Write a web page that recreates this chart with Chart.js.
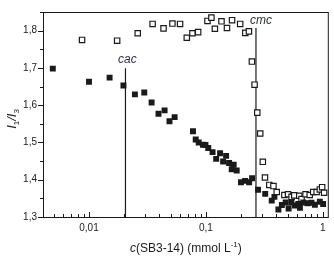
<!DOCTYPE html>
<html>
<head>
<meta charset="utf-8">
<script src="https://cdn.jsdelivr.net/npm/chart.js@4/dist/chart.umd.min.js"></script>
<style>
  html, body { margin: 0; padding: 0; background: #fff; }
  #wrap { width: 334px; height: 256px; }
</style>
</head>
<body>
<div id="wrap"><canvas id="chart" width="334" height="256"></canvas></div>
<script>
// Data: concentration (mmol/L) and I1/I3
const filledX = [0.0049, 0.0100, 0.0150, 0.0197, 0.0247, 0.0297, 0.0343, 0.0393, 0.0443, 0.0488,
  0.0540, 0.0775, 0.0818, 0.0867, 0.0943, 0.0991, 0.1047, 0.114, 0.1224, 0.1322,
  0.1403, 0.1488, 0.1578, 0.1663, 0.1728, 0.1834, 0.1995, 0.2167, 0.2342, 0.2483,
  0.2793, 0.3215, 0.3656, 0.3855, 0.4169, 0.4463, 0.4810, 0.5100, 0.538, 0.578,
  0.617, 0.637, 0.681, 0.740, 0.800, 0.855, 0.943, 1.006];
const filledY = [1.698, 1.663, 1.674, 1.653, 1.629, 1.634, 1.607, 1.577, 1.586, 1.557,
  1.568, 1.530, 1.508, 1.500, 1.494, 1.493, 1.485, 1.474, 1.456, 1.471,
  1.449, 1.464, 1.445, 1.428, 1.440, 1.425, 1.393, 1.397, 1.393, 1.404,
  1.373, 1.362, 1.344, 1.354, 1.320, 1.332, 1.339, 1.323, 1.339, 1.331,
  1.335, 1.325, 1.339, 1.337, 1.338, 1.333, 1.341, 1.335];

const openX = [0.00872, 0.0174, 0.0261, 0.0350, 0.0434, 0.0517, 0.0601, 0.0686, 0.0767, 0.0858,
  0.1031, 0.1114, 0.1193, 0.1359, 0.1514, 0.1673, 0.1963, 0.2173, 0.2333, 0.2474,
  0.2608, 0.2749, 0.2915, 0.3067, 0.3201, 0.3483, 0.3782, 0.4034, 0.4690, 0.5042,
  0.5410, 0.5704, 0.6287, 0.6579, 0.7114, 0.7727, 0.8272, 0.8857, 0.9430, 0.9863, 1.026];
const openY = [1.775, 1.773, 1.793, 1.818, 1.806, 1.819, 1.818, 1.781, 1.793, 1.796,
  1.826, 1.835, 1.805, 1.825, 1.807, 1.828, 1.818, 1.794, 1.798, 1.717,
  1.655, 1.580, 1.524, 1.448, 1.406, 1.386, 1.383, 1.367, 1.359, 1.361,
  1.354, 1.358, 1.357, 1.348, 1.361, 1.359, 1.367, 1.367, 1.374, 1.380, 1.365];

// marker lines: cac and cmc
const cacX = 0.0205, cacTop = 1.699;
const cmcX = 0.268, cmcTop = 1.807;

const xTickValues = [0.01, 0.1, 1];
const xTickLabels = ['0,01', '0,1', '1'];
const yTickValues = [1.3, 1.4, 1.5, 1.6, 1.7, 1.8];
const yTickLabels = ['1,3', '1,4', '1,5', '1,6', '1,7', '1,8'];

const FONT = '"Liberation Sans", Arial, sans-serif';
const INK = '#1a1a1a';

const toPoints = (xs, ys) => xs.map((x, i) => ({x: x, y: ys[i]}));

// frame, inward/outward tick marks, titles and the cac / cmc labels
const decorations = {
  id: 'decorations',
  afterDraw(chart) {
    const ctx = chart.ctx;
    const a = chart.chartArea;
    const xs = chart.scales.x, ys = chart.scales.y;
    ctx.save();
    ctx.strokeStyle = INK;
    ctx.lineWidth = 1;
    ctx.strokeRect(a.left + 0.5, a.top + 0.5, a.right - a.left - 1, a.bottom - a.top);

    // y ticks (outside, left)
    for (let v = 1.3; v <= 1.851; v += 0.05) {
      const py = Math.round(ys.getPixelForValue(v)) + 0.5;
      const major = Math.abs(Math.round(v * 10) - v * 10) < 1e-6;
      ctx.beginPath();
      ctx.moveTo(a.left, py);
      ctx.lineTo(a.left - (major ? 5 : 3), py);
      ctx.stroke();
    }
    // x ticks (inside, up)
    for (let e = -3; e <= 0; e++) {
      for (let m = 1; m <= 9; m++) {
        const v = m * Math.pow(10, e);
        if (v < xs.min || v > xs.max) continue;
        const px = Math.round(xs.getPixelForValue(v)) + 0.5;
        ctx.beginPath();
        ctx.moveTo(px, a.bottom);
        ctx.lineTo(px, a.bottom - (m === 1 ? 5 : 3));
        ctx.stroke();
      }
    }

    // x title: c(SB3-14) (mmol L^-1)
    ctx.fillStyle = INK;
    ctx.textBaseline = 'alphabetic';
    const parts = [
      {t: 'c', f: 'italic 12px ' + FONT, dy: 0},
      {t: '(SB3-14) (mmol L', f: '12px ' + FONT, dy: 0},
      {t: '-1', f: '8px ' + FONT, dy: -5},
      {t: ')', f: '12px ' + FONT, dy: 0}
    ];
    let total = 0;
    parts.forEach(p => { ctx.font = p.f; p.w = ctx.measureText(p.t).width; total += p.w; });
    let cx = (a.left + a.right) / 2 - total / 2;
    const base = 252;
    parts.forEach(p => { ctx.font = p.f; ctx.fillText(p.t, cx, base + p.dy); cx += p.w; });

    // y title: I1/I3 rotated
    ctx.save();
    ctx.translate(16, 119);
    ctx.rotate(-Math.PI / 2);
    const yparts = [
      {t: 'I', f: 'italic 13px ' + FONT, dy: 0},
      {t: '1', f: '8px ' + FONT, dy: 3},
      {t: '/', f: 'italic 13px ' + FONT, dy: 0},
      {t: 'I', f: 'italic 13px ' + FONT, dy: 0},
      {t: '3', f: '8px ' + FONT, dy: 3}
    ];
    total = 0;
    yparts.forEach(p => { ctx.font = p.f; p.w = ctx.measureText(p.t).width; total += p.w; });
    cx = -total / 2;
    yparts.forEach(p => { ctx.font = p.f; ctx.fillText(p.t, cx, p.dy); cx += p.w; });
    ctx.restore();

    // cac / cmc labels
    ctx.font = 'italic 12px ' + FONT;
    ctx.fillStyle = '#2b3140';
    ctx.textAlign = 'center';
    ctx.textBaseline = 'bottom';
    ctx.fillText('cac', xs.getPixelForValue(cacX) + 2, ys.getPixelForValue(cacTop) - 3);
    ctx.fillText('cmc', xs.getPixelForValue(cmcX) + 5, ys.getPixelForValue(cmcTop) - 1);
    ctx.restore();
  }
};

const chart = new Chart(document.getElementById('chart'), {
  type: 'scatter',
  data: {
    datasets: [
      {
        label: 'filled',
        data: toPoints(filledX, filledY),
        pointStyle: 'rect',
        pointRadius: 4.2,
        backgroundColor: INK,
        borderWidth: 0,
        order: 1
      },
      {
        label: 'open',
        data: toPoints(openX, openY),
        pointStyle: 'rect',
        pointRadius: 3.8,
        backgroundColor: '#ffffff',
        borderColor: INK,
        borderWidth: 1.2,
        order: 1
      },
      {
        label: 'cac',
        data: [{x: cacX, y: 1.3}, {x: cacX, y: cacTop}],
        showLine: true,
        borderColor: INK,
        borderWidth: 1.2,
        pointRadius: 0,
        order: 5
      },
      {
        label: 'cmc',
        data: [{x: cmcX, y: 1.3}, {x: cmcX, y: cmcTop}],
        showLine: true,
        borderColor: INK,
        borderWidth: 1.2,
        pointRadius: 0,
        order: 5
      }
    ]
  },
  options: {
    responsive: false,
    animation: false,
    devicePixelRatio: 1,
    layout: {padding: {left: 0, right: 4, top: 3, bottom: 0}},
    plugins: {legend: {display: false}, tooltip: {enabled: false}},
    scales: {
      x: {
        type: 'logarithmic',
        min: 0.00404,
        max: 1.125,
        grid: {display: false, drawTicks: false},
        border: {display: false},
        afterBuildTicks: s => { s.ticks = xTickValues.map(v => ({value: v})); },
        afterFit: s => { s.height = 39; },
        ticks: {
          autoSkip: false,
          maxRotation: 0,
          padding: 5,
          color: INK,
          font: {family: FONT, size: 10},
          callback: v => xTickLabels[xTickValues.indexOf(v)]
        }
      },
      y: {
        min: 1.3,
        max: 1.85,
        grid: {display: false, drawTicks: false},
        border: {display: false},
        afterBuildTicks: s => { s.ticks = yTickValues.map(v => ({value: v})); },
        afterFit: s => { s.width = 43; },
        ticks: {
          autoSkip: false,
          padding: 6,
          color: INK,
          font: {family: FONT, size: 10},
          callback: v => yTickLabels[yTickValues.indexOf(v)]
        }
      }
    }
  },
  plugins: [decorations]
});
</script>
</body>
</html>
